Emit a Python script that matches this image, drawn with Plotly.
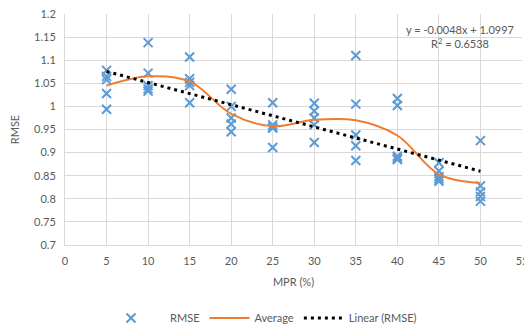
import plotly.graph_objects as go

# Data
mpr_levels = [5, 10, 15, 20, 25, 30, 35, 40, 45, 50]
rmse_by_level = [
    [1.078, 1.065, 1.058, 1.028, 0.994],
    [1.138, 1.072, 1.045, 1.038, 1.033],
    [1.107, 1.060, 1.052, 1.045, 1.008],
    [1.037, 1.000, 0.975, 0.962, 0.945],
    [1.008, 0.960, 0.955, 0.953, 0.911],
    [1.007, 0.990, 0.975, 0.960, 0.922],
    [1.110, 1.005, 0.938, 0.915, 0.883],
    [1.017, 1.002, 0.892, 0.888, 0.885],
    [0.878, 0.860, 0.848, 0.843, 0.838],
    [0.926, 0.828, 0.815, 0.805, 0.795],
]
average_rmse = [1.045, 1.065, 1.054, 0.984, 0.957, 0.971, 0.970, 0.937, 0.853, 0.834]
trend_slope = -0.0048
trend_intercept = 1.0997
trend_r2 = 0.6538
x_ticks = [0, 5, 10, 15, 20, 25, 30, 35, 40, 45, 50, 55]
y_ticks = [0.7, 0.75, 0.8, 0.85, 0.9, 0.95, 1.0, 1.05, 1.1, 1.15, 1.2]
y_tick_labels = ["0.7", "0.75", "0.8", "0.85", "0.9", "0.95", "1", "1.05", "1.1", "1.15", "1.2"]

pts_x = [x for x, vals in zip(mpr_levels, rmse_by_level) for _ in vals]
pts_y = [v for vals in rmse_by_level for v in vals]
trend_x = [mpr_levels[0], mpr_levels[-1]]
trend_y = [trend_slope * x + trend_intercept for x in trend_x]

FONT = "Lato, 'Open Sans', sans-serif"
GRAY = "#595959"
GRID = "#d9d9d9"
NB = "\u00a0"

# page body has an 8px margin, so the figure is drawn 8px in from the corner
OFF = 8
W, H = 524, 321
ML, MR, MT, MB = 57, 10, 6, 84
PW = W - ML - MR
PH = H - MT - MB


def px_x(screen_x):
    return (screen_x - OFF - ML) / PW


def px_y(screen_y):
    return (MT + PH - (screen_y - OFF)) / PH


fig = go.Figure()
fig.add_trace(go.Scatter(
    x=pts_x, y=pts_y, mode="markers", name=NB * 5 + "RMSE",
    marker=dict(symbol="x-thin", size=9, color="#5B9BD5",
                line=dict(width=2, color="#5B9BD5")),
))
fig.add_trace(go.Scatter(
    x=mpr_levels, y=average_rmse, mode="lines", name="Average",
    line=dict(color="#ED7D31", width=2, shape="spline", smoothing=1.0),
))
fig.add_trace(go.Scatter(
    x=trend_x, y=trend_y, mode="lines", name="Linear (RMSE)",
    line=dict(color="black", width=3, dash="3px,4px"),
))

fig.add_annotation(
    xref="paper", yref="paper", x=px_x(460), y=px_y(37),
    text=f"y = {trend_slope}x + {trend_intercept}<br>R<sup>2</sup> = {trend_r2}",
    showarrow=False, align="center", xanchor="center", yanchor="middle",
    font=dict(family=FONT, size=11, color=GRAY),
)

fig.update_layout(
    width=W, height=H,
    margin=dict(l=ML, r=MR, t=MT, b=MB, autoexpand=False),
    paper_bgcolor="white", plot_bgcolor="white",
    font=dict(family=FONT, size=11, color=GRAY),
    showlegend=True,
    legend=dict(orientation="h", x=px_x(264), xanchor="center",
                y=px_y(318), yanchor="middle",
                font=dict(family=FONT, size=11, color=GRAY),
                itemwidth=40, bgcolor="rgba(0,0,0,0)"),
    xaxis=dict(
        range=[0, 55], tickvals=x_ticks, showgrid=True, gridcolor=GRID, gridwidth=1,
        zeroline=False, showline=True, linecolor=GRID, linewidth=1, ticks="",
        ticklabelstandoff=6, automargin=False, ticklabeloverflow="allow",
        title=dict(text="MPR (%)", font=dict(family=FONT, size=11, color=GRAY), standoff=12),
    ),
    yaxis=dict(
        range=[0.7, 1.2], tickvals=y_ticks, ticktext=y_tick_labels, showgrid=True,
        gridcolor=GRID, gridwidth=1, zeroline=False, showline=True, linecolor=GRID,
        linewidth=1, ticks="", ticklabelstandoff=6, automargin=False,
        ticklabeloverflow="allow",
        title=dict(text="RMSE", font=dict(family=FONT, size=11, color=GRAY), standoff=12),
    ),
)

fig.write_html("out.html")
